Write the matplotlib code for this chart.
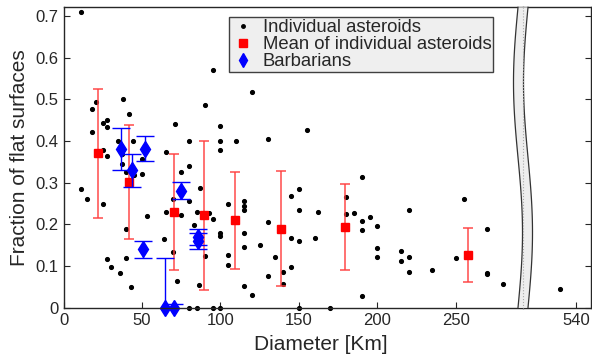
import matplotlib
matplotlib.use('Agg')
import matplotlib.pyplot as plt
from matplotlib.patches import Polygon
from matplotlib.lines import Line2D
import numpy as np

plt.rcParams['font.family'] = ['Liberation Sans', 'DejaVu Sans']

# individual asteroids (diameter km, fraction of flat surfaces)
ast_d = [11, 95, 120, 21, 18, 38, 42, 90, 25, 28, 28, 18, 71, 100, 80, 100, 110, 35, 44,
         100, 25, 28, 37, 65, 50,
         37, 40, 45, 50, 80, 75, 87, 11, 15, 25, 70, 80, 65, 75, 85, 93, 95, 53, 83, 40,
         100, 100, 64, 70, 90, 40, 28, 30, 36, 72, 86, 43, 80, 85, 95, 100, 105, 115, 115,
         115, 105, 105, 115, 115, 115, 120, 125, 150, 170, 190,
         130, 130, 135, 140, 140, 145, 145, 145, 150, 150, 150, 160, 162, 180, 180, 185,
         190, 190, 190, 195, 200, 200, 200, 215, 215, 220, 220, 220, 235, 250, 255, 270,
         270, 270, 280, 130, 155]
ast_f = [0.709, 0.570, 0.518, 0.494, 0.476, 0.502, 0.464, 0.486, 0.444, 0.450, 0.434, 0.421,
         0.442, 0.436, 0.401, 0.401, 0.401, 0.401, 0.401, 0.378, 0.378, 0.365, 0.368, 0.373,
         0.358,
         0.344, 0.326, 0.318, 0.322, 0.340, 0.325, 0.287, 0.285, 0.262, 0.249, 0.260, 0.255,
         0.230, 0.222, 0.230, 0.228, 0.213, 0.219, 0.199, 0.188, 0.180, 0.172, 0.164, 0.134,
         0.124, 0.120, 0.116, 0.097, 0.083, 0.063, 0.054, 0.050, 0.0, 0.0, 0.0, 0.0, 0.249,
         0.256, 0.244, 0.234, 0.126, 0.102, 0.179, 0.146, 0.053, 0.030, 0.151, 0.0, 0.0,
         0.029,
         0.205, 0.077, 0.122, 0.086, 0.058, 0.268, 0.167, 0.098, 0.285, 0.235, 0.160, 0.167,
         0.230, 0.266, 0.226, 0.228, 0.314, 0.209, 0.186, 0.218, 0.196, 0.143, 0.122, 0.137,
         0.112, 0.234, 0.122, 0.086, 0.090, 0.120, 0.262, 0.188, 0.083, 0.080, 0.056, 0.405,
         0.426]
# the big one, beyond the axis break
far_d = [530]
far_f = [0.044]

# mean of individual asteroids
mean_d = [22.2, 41.7, 70.2, 89.7, 109.2, 138.5, 179.5, 257.6]
mean_f = [0.371, 0.302, 0.230, 0.222, 0.210, 0.190, 0.194, 0.126]
mean_err = [0.155, 0.136, 0.140, 0.179, 0.116, 0.137, 0.104, 0.065]

# barbarians
barb_d = [36.6, 43.6, 51.7, 50.4, 75.0, 85.7, 85.7, 64.6, 70.6]
barb_f = [0.381, 0.330, 0.381, 0.140, 0.281, 0.170, 0.160, 0.0, 0.0]
barb_err = [0.05, 0.04, 0.03, 0.02, 0.02, 0.02, 0.02, 0.12, 0.01]

xticks1 = [0, 50, 100, 150, 200, 250]
xticks2 = [540]
yticks = [0, 0.1, 0.2, 0.3, 0.4, 0.5, 0.6, 0.7]
ytick_labels = ['0', '0.1', '0.2', '0.3', '0.4', '0.5', '0.6', '0.7']

W, H = 592, 358
txt = '#262626'


def box(x0, x1, ytop, ybot):
    return [x0 / W, 1 - ybot / H, (x1 - x0) / W, (ybot - ytop) / H]


fig = plt.figure(figsize=(W / 100, H / 100), dpi=100)
ax1 = fig.add_axes(box(63.5, 523, 7.3, 307.7))
ax2 = fig.add_axes(box(523, 591, 7.3, 307.7))

ax1.plot(ast_d, ast_f, 'o', color='k', ms=2.7, ls='none', clip_on=False)
ax2.plot(far_d, far_f, 'o', color='k', ms=2.7, ls='none')
ax1.errorbar(mean_d, mean_f, yerr=mean_err, fmt='none',
             ecolor=(1, 0.25, 0.25, 0.8), elinewidth=1.3, capsize=3.5, capthick=1.3)
ax1.plot(mean_d, mean_f, 's', color='red', ms=6, ls='none')
ax1.errorbar(barb_d, barb_f, yerr=barb_err, fmt='none',
             ecolor='blue', elinewidth=1, capsize=6.5, capthick=1)
ax1.plot(barb_d, barb_f, 'd', color='blue', ms=8, ls='none', clip_on=False)

for ax in (ax1, ax2):
    ax.set_ylim(0, 0.721)
    for s in ax.spines.values():
        s.set_color(txt)
        s.set_linewidth(1)

ax1.set_xlim(0, 292.7)
ax2.set_xlim(506.2, 549.5)
ax1.set_xticks(xticks1)
ax2.set_xticks(xticks2)
ax1.set_yticks(yticks)
ax1.set_yticklabels(ytick_labels)
ax2.set_yticks(yticks)
ax1.spines['right'].set_visible(False)
ax2.spines['left'].set_visible(False)
ax1.tick_params(direction='in', length=4, labelsize=12, colors=txt, right=False, top=False)
ax2.tick_params(direction='in', length=4, labelsize=12, colors=txt, left=False,
                right=True, labelleft=False, labelright=False, top=False)

ax1.set_ylabel('Fraction of flat surfaces', fontsize=15, color=txt, labelpad=5)
fig.text(321 / W, 1 - 345 / H, 'Diameter [Km]', fontsize=15, color=txt,
         ha='center', va='center')

# legend with plain markers
handles = [Line2D([], [], marker='o', color='k', ms=2.5, ls='none'),
           Line2D([], [], marker='s', color='red', ms=5.5, ls='none'),
           Line2D([], [], marker='d', color='blue', ms=7, ls='none')]
labels = ['Individual asteroids', 'Mean of individual asteroids', 'Barbarians']
leg = ax1.legend(handles, labels, loc='upper right', bbox_to_anchor=(0.935, 0.967),
                 borderaxespad=0, fontsize=13.3, fancybox=False, framealpha=1,
                 facecolor='#efefef', edgecolor='#404040', borderpad=0.1,
                 labelspacing=0.0, handlelength=1.3, handletextpad=0.4)
leg.get_frame().set_linewidth(1)
for t in leg.get_texts():
    t.set_color(txt)

# wavy axis break
tt = np.linspace(0, 1, 120)
yy = 7.3 + tt * 300.4
xl = 518 - 4.5 * np.sin(2 * np.pi * tt)
xr = xl + 10
verts = np.vstack([np.column_stack([xl, yy]), np.column_stack([xr, yy])[::-1]])
verts[:, 0] /= W
verts[:, 1] = 1 - verts[:, 1] / H
fig.add_artist(Polygon(verts, closed=True, facecolor='#eeeeee', edgecolor='none',
                       transform=fig.transFigure, zorder=5))
for xe in (xl, xr):
    fig.add_artist(Line2D(xe / W, 1 - yy / H, color='#333333', lw=0.9,
                          transform=fig.transFigure, zorder=6))
fig.add_artist(Line2D([523 / W, 523 / W], [1 - 7.3 / H, 1 - 307.7 / H], color='#aaaaaa',
                      lw=0.8, ls=':', transform=fig.transFigure, zorder=6))

fig.savefig('out.png', dpi=100)
